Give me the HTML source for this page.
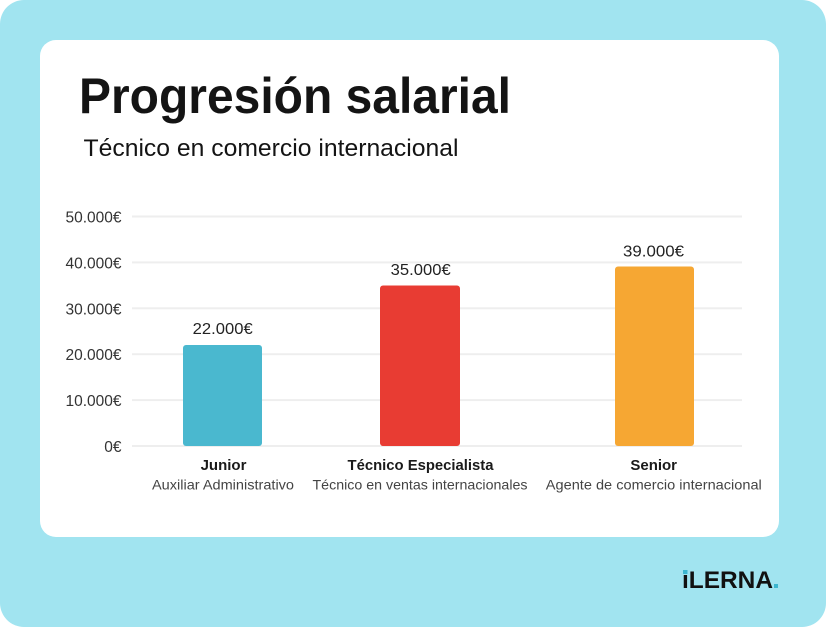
<!DOCTYPE html>
<html>
<head>
<meta charset="utf-8">
<style>
  html, body { margin:0; padding:0; background:#ffffff; }
  body { width:826px; height:627px; overflow:hidden; }
  svg { display:block; }
  text { font-family: "Liberation Sans", "DejaVu Sans", sans-serif; }
</style>
</head>
<body>
<svg width="826" height="627" viewBox="0 0 826 627" xmlns="http://www.w3.org/2000/svg">
  <!-- outer background -->
  <rect x="0" y="0" width="826" height="627" rx="24" ry="24" fill="#A1E4F0"/>
  <!-- card -->
  <rect x="40" y="40" width="739" height="497" rx="16" ry="16" fill="#ffffff"/>

  <!-- title -->
  <text x="79" y="113" font-size="50" font-weight="bold" fill="#141414" textLength="432" lengthAdjust="spacingAndGlyphs">Progresión salarial</text>
  <text x="83.5" y="156" font-size="24" fill="#141414" textLength="375" lengthAdjust="spacingAndGlyphs">Técnico en comercio internacional</text>

  <!-- gridlines -->
  <g fill="#EEEEEE">
    <rect x="132" y="215.5" width="610" height="2"/>
    <rect x="132" y="261.4" width="610" height="2"/>
    <rect x="132" y="307.3" width="610" height="2"/>
    <rect x="132" y="353.2" width="610" height="2"/>
    <rect x="132" y="399.1" width="610" height="2"/>
    <rect x="132" y="445" width="610" height="2"/>
  </g>

  <!-- y tick labels -->
  <g font-size="15.5" fill="#333333" text-anchor="end">
    <text x="121.5" y="222.5">50.000€</text>
    <text x="121.5" y="268.4">40.000€</text>
    <text x="121.5" y="314.3">30.000€</text>
    <text x="121.5" y="360.2">20.000€</text>
    <text x="121.5" y="406.1">10.000€</text>
    <text x="121.5" y="452">0€</text>
  </g>

  <!-- bars -->
  <rect x="183" y="345" width="79" height="101" rx="3" ry="3" fill="#4AB8CF"/>
  <rect x="380" y="285.5" width="80" height="160.5" rx="3" ry="3" fill="#E83C33"/>
  <rect x="615" y="266.5" width="79" height="179.5" rx="3" ry="3" fill="#F6A733"/>

  <!-- value labels -->
  <g font-size="16" fill="#222222" text-anchor="middle">
    <text x="222.7" y="334" textLength="60" lengthAdjust="spacingAndGlyphs">22.000€</text>
    <text x="420.7" y="275" textLength="60" lengthAdjust="spacingAndGlyphs">35.000€</text>
    <text x="653.5" y="256.5" textLength="61" lengthAdjust="spacingAndGlyphs">39.000€</text>
  </g>

  <!-- category labels -->
  <g font-size="15" font-weight="bold" fill="#1a1a1a" text-anchor="middle">
    <text x="223.5" y="470">Junior</text>
    <text x="420.5" y="470" textLength="146" lengthAdjust="spacingAndGlyphs">Técnico Especialista</text>
    <text x="653.7" y="470">Senior</text>
  </g>
  <g font-size="14" fill="#444444" text-anchor="middle">
    <text x="223" y="489.5" textLength="142" lengthAdjust="spacingAndGlyphs">Auxiliar Administrativo</text>
    <text x="420" y="489.5" textLength="215" lengthAdjust="spacingAndGlyphs">Técnico en ventas internacionales</text>
    <text x="653.8" y="489.5" textLength="216" lengthAdjust="spacingAndGlyphs">Agente de comercio internacional</text>
  </g>

  <!-- logo -->
  <text x="682" y="588" font-size="24" font-weight="bold" fill="#111111" textLength="91" lengthAdjust="spacingAndGlyphs">ıLERNA</text>
  <rect x="683" y="570" width="4.5" height="4" fill="#3BB6CF"/>
  <rect x="774" y="584" width="4" height="4" fill="#3BB6CF"/>
</svg>
</body>
</html>
